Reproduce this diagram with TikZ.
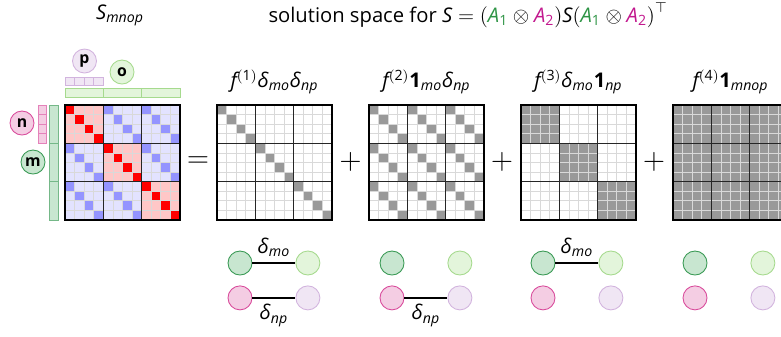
\documentclass[tikz,border=0pt]{standalone}
\usepackage{fontspec}
\setmainfont{Open Sans}
\usepackage{tikz}
\usetikzlibrary{positioning,calc}
\definecolor{mvonal}{HTML}{3A9A55}
\definecolor{mtolt}{HTML}{C8E6D0}
\definecolor{ovonal}{HTML}{A6DA8E}
\definecolor{otolt}{HTML}{E3F5DB}
\definecolor{nvonal}{HTML}{D94C9C}
\definecolor{ntolt}{HTML}{F4CDE3}
\definecolor{pvonal}{HTML}{D2B4DE}
\definecolor{ptolt}{HTML}{F0E6F4}
\definecolor{Azold}{HTML}{2E9445}
\definecolor{Alila}{HTML}{C2188E}
\newcommand{\cel}{9.5833}
\newcommand{\fent}{105}
\newcommand{\dd}[1]{\textit{δ}$_{\mathit{#1}}$}
\newcommand{\ee}[1]{\textbf{1}$_{\mathit{#1}}$}
\newcommand{\ff}[1]{$\mathit{f}^{\mathrm{(#1)}}$}
\tikzset{
  kor/.style={circle,minimum size=4.8mm,inner sep=0pt,line width=0.5pt,font=\small\bfseries},
  mkor/.style={kor,draw=mvonal,fill=mtolt},
  okor/.style={kor,draw=ovonal,fill=otolt},
  nkor/.style={kor,draw=nvonal,fill=ntolt},
  pkor/.style={kor,draw=pvonal,fill=ptolt},
  msav/.style={draw=mvonal!70,fill=mtolt,line width=0.5pt},
  osav/.style={draw=ovonal,fill=otolt,line width=0.5pt},
  nsav/.style={draw=nvonal!70,fill=ntolt,line width=0.5pt},
  psav/.style={draw=pvonal,fill=ptolt,line width=0.5pt},
  racs/.style={draw=gray!30,line width=0.45pt},
  blokk/.style={draw=black!85,line width=0.55pt},
  keret/.style={draw=black,line width=0.9pt},
  tele/.style={fill=gray!80},
  el/.style={line width=0.8pt},
  jel/.style={font=\LARGE},
}
% egy 12x12-es racs, #1: bal szel, #2: mely cellak szurkek
\newcommand{\matrajz}[2]{%
  \foreach \i in {0,...,11}{
    \foreach \j in {0,...,11}{
      \pgfmathtruncatemacro{\be}{#2}
      \ifnum\be=1
        \fill[tele] ({#1+\j*\cel},{\fent+\i*\cel}) rectangle ++(\cel,\cel);
      \fi
    }
  }
  \foreach \k in {1,...,11}{
    \draw[racs] ({#1+\k*\cel},\fent) -- ++(0,115);
    \draw[racs] (#1,{\fent+\k*\cel}) -- ++(115,0);
  }
  \foreach \k in {1,2}{
    \draw[blokk] ({#1+4*\k*\cel},\fent) -- ++(0,115);
    \draw[blokk] (#1,{\fent+4*\k*\cel}) -- ++(115,0);
  }
  \draw[keret] (#1,\fent) rectangle ++(115,115);
}
\begin{document}
\begin{tikzpicture}[x=0.2mm,y=-0.2mm,font=\fontsize{11.5}{13}\selectfont]
  \useasboundingbox (0,0) rectangle (781,336);
  \clip (0,0) rectangle (781,336);
  \node (smnop) at (120,15) {$\mathit{S}_{\mathit{mnop}}$};
  \node (cim) at (468,15) {solution space for $\mathit{S}=\mathrm{(}\textcolor{Azold}{\mathit{A}_{\mathrm{1}}}\otimes\textcolor{Alila}{\mathit{A}_{\mathrm{2}}}\mathrm{)}\mathit{S}\mathrm{(}\textcolor{Azold}{\mathit{A}_{\mathrm{1}}}\otimes\textcolor{Alila}{\mathit{A}_{\mathrm{2}}}\mathrm{)}^\top$};

  % S matrix
  \foreach \i in {0,...,11}{
    \foreach \j in {0,...,11}{
      \pgfmathtruncatemacro{\blk}{int(\i/4)==int(\j/4)}
      \pgfmathtruncatemacro{\dg}{mod(\i,4)==mod(\j,4)}
      \ifnum\blk=1
        \ifnum\dg=1 \def\szin{red}\else\def\szin{red!22}\fi
      \else
        \ifnum\dg=1 \def\szin{blue!42}\else\def\szin{blue!11}\fi
      \fi
      \fill[\szin] ({65+\j*\cel},{\fent+\i*\cel}) rectangle ++(\cel,\cel);
    }
  }
  \foreach \k in {1,...,11}{
    \draw[racs] ({65+\k*\cel},\fent) -- ++(0,115);
    \draw[racs] (65,{\fent+\k*\cel}) -- ++(115,0);
  }
  \foreach \k in {1,2}{
    \draw[blokk] ({65+4*\k*\cel},\fent) -- ++(0,115);
    \draw[blokk] (65,{\fent+4*\k*\cel}) -- ++(115,0);
  }
  \draw[keret] (65,\fent) rectangle ++(115,115);

  % indexsavok
  \foreach \k in {0,...,3} \draw[psav] ({65+\k*\cel},77) rectangle ++(\cel,8);
  \foreach \k in {0,1,2} \draw[osav] ({65+4*\k*\cel},88) rectangle ++({4*\cel},9);
  \foreach \k in {0,...,3} \draw[nsav] (38,{\fent+\k*\cel}) rectangle ++(8,\cel);
  \foreach \k in {0,1,2} \draw[msav] (49,{\fent+4*\k*\cel}) rectangle ++(9,{4*\cel});
  \node[pkor] (p) at (84.5,61) {p};
  \node[okor] (o) at (122,72) {o};
  \node[nkor] (n) at (22,123) {n};
  \node[mkor] (m) at (33,162) {m};

  \node[jel] (egy) at (198,162) {$=$};
  \matrajz{217}{\i==\j}
  \matrajz{369}{mod(\i,4)==mod(\j,4)}
  \matrajz{521}{int(\i/4)==int(\j/4)}
  \matrajz{673}{1}
  \node[jel] (plusz1) at (350.5,162) {$+$};
  \node[jel] (plusz2) at (502,162) {$+$};
  \node[jel] (plusz3) at (654,162) {$+$};

  \node (f1) at (274.5,82) {\ff{1}\dd{mo}\dd{np}};
  \node (f2) at (426.5,82) {\ff{2}\ee{mo}\dd{np}};
  \node (f3) at (578.5,82) {\ff{3}\dd{mo}\ee{np}};
  \node (f4) at (730.5,82) {\ff{4}\ee{mnop}};

  % grafok
  \node[mkor] (m1) at (240,263) {};
  \node[okor,right=8.6mm of m1] (o1) {};
  \node[nkor,below=2mm of m1] (n1) {};
  \node[pkor,below=2mm of o1] (p1) {};
  \draw[el] (m1) -- node[above=0pt] {\dd{mo}} (o1);
  \draw[el] (n1) -- node[below=0pt] {\dd{np}} (p1);

  \node[mkor] (m2) at (392,263) {};
  \node[okor,right=8.6mm of m2] (o2) {};
  \node[nkor,below=2mm of m2] (n2) {};
  \node[pkor,below=2mm of o2] (p2) {};
  \draw[el] (n2) -- node[below=0pt] {\dd{np}} (p2);

  \node[mkor] (m3) at (543,263) {};
  \node[okor,right=8.6mm of m3] (o3) {};
  \node[nkor,below=2mm of m3] (n3) {};
  \node[pkor,below=2mm of o3] (p3) {};
  \draw[el] (m3) -- node[above=0pt] {\dd{mo}} (o3);

  \node[mkor] (m4) at (695,263) {};
  \node[okor,right=8.6mm of m4] (o4) {};
  \node[nkor,below=2mm of m4] (n4) {};
  \node[pkor,below=2mm of o4] (p4) {};
\end{tikzpicture}
\end{document}
